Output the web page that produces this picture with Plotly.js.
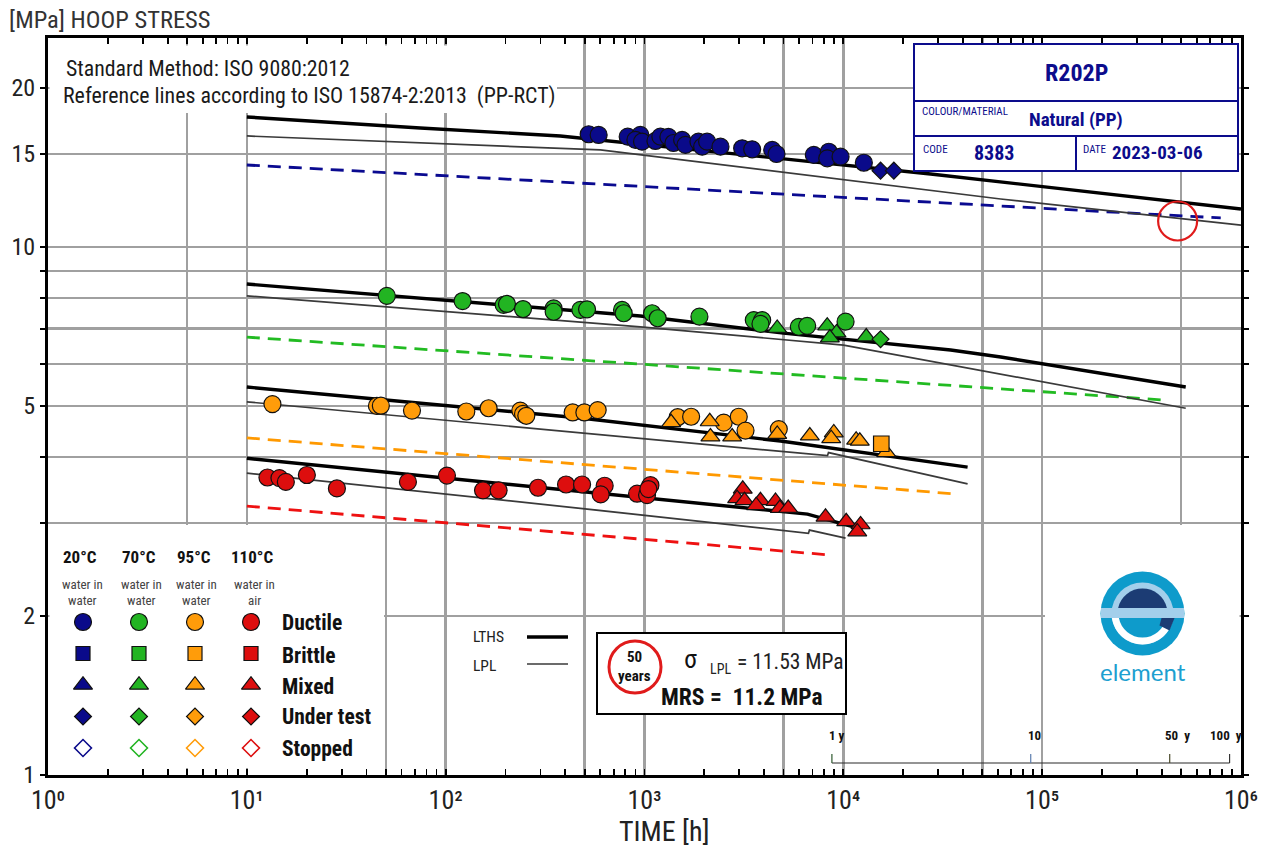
<!DOCTYPE html>
<html>
<head>
<meta charset="utf-8">
<script src="https://cdn.plot.ly/plotly-3.0.1.min.js"></script>
<style>
html,body{margin:0;padding:0;background:#ffffff;}
#chart{width:1266px;height:851px;}
</style>
</head>
<body>
<div id="chart"></div>
<script>
// ===================== DATA =====================
// 20 °C (water in water)
const t20Ductile = [524, 588, 823, 953, 900, 972, 1135, 1202, 1319, 1398, 1546, 1607, 1868, 1950, 2065, 2410, 3099, 3479, 4388, 4613, 7104, 8453, 8300, 9683, 12680];
const s20Ductile = [16.35, 16.30, 16.18, 16.30, 15.95, 15.83, 15.88, 16.18, 16.16, 15.74, 15.95, 15.61, 15.83, 15.49, 15.83, 15.49, 15.38, 15.31, 15.27, 15.00, 14.94, 15.15, 14.72, 14.83, 14.44];
const t20Test = [15390, 17950];
const s20Test = [13.95, 13.95];

// 70 °C (water in water)
const t70Ductile = [50.6, 121.6, 195.6, 203.4, 244.9, 349.2, 349.2, 475.8, 514, 771, 786, 1092, 1165, 1889, 3545, 3907, 3830, 5970, 6580, 10260];
const s70Ductile = [8.08, 7.90, 7.77, 7.80, 7.63, 7.65, 7.54, 7.60, 7.62, 7.60, 7.49, 7.49, 7.33, 7.38, 7.27, 7.27, 7.15, 7.06, 7.09, 7.22];
const t70Mixed = [4650, 8300, 9240, 8553, 13040];
const s70Mixed = [7.02, 7.09, 6.88, 6.73, 6.76];
const t70Test = [15390];
const s70Test = [6.69];

// 95 °C (water in water)
const t95Ductile = [13.45, 45.1, 47.2, 67.7, 127, 164.4, 237.4, 244.9, 254.4, 435.2, 498.4, 581.5, 1469, 1716, 2503, 2979, 3221, 4735];
const s95Ductile = [5.04, 5.00, 5.005, 4.90, 4.88, 4.95, 4.90, 4.83, 4.79, 4.86, 4.86, 4.91, 4.76, 4.77, 4.65, 4.77, 4.49, 4.52];
const t95Mixed = [1361, 2129, 2146, 2760, 4650, 6783, 8955, 8690, 11600, 12100, 16440];
const s95Mixed = [4.65, 4.67, 4.37, 4.37, 4.42, 4.39, 4.45, 4.34, 4.31, 4.29, 4.08];
const t95Brittle = [15520];
const s95Brittle = [4.24];

// 110 °C (water in air)
const t110Ductile = [12.70, 14.59, 15.71, 20.04, 28.38, 64.6, 101.5, 154.1, 184.6, 291.4, 403.2, 485.3, 630.5, 602, 917.8, 1071, 1030, 1046];
const s110Ductile = [3.66, 3.65, 3.59, 3.70, 3.49, 3.59, 3.69, 3.46, 3.46, 3.50, 3.55, 3.55, 3.53, 3.40, 3.41, 3.54, 3.39, 3.48];
const t110Mixed = [3120, 2924, 3184, 3830, 3644, 4558, 4791, 5282, 8136, 10340, 12210, 11750];
const s110Mixed = [3.48, 3.34, 3.31, 3.31, 3.24, 3.30, 3.20, 3.20, 3.08, 3.02, 2.98, 2.89];

// LTHS lines (thick black)
const lths20T = [10, 74.5, 377, 27480, 1000000];
const lths20S = [17.63, 16.8, 16.23, 13.75, 11.80];
const lths70T = [10, 953, 5001, 34640, 61850, 527300];
const lths70S = [8.51, 7.40, 6.87, 6.38, 6.19, 5.43];
const lths95T = [10, 475.6, 4830, 42170];
const lths95S = [5.43, 4.745, 4.29, 3.83];
const lths110T = [10, 953, 6603, 12490];
const lths110S = [3.98, 3.36, 3.12, 2.92];

// LPL lines (thin grey)
const lpl20T = [10, 600, 61850, 1000000];
const lpl20S = [16.23, 15.27, 12.33, 11.0];
const lpl70T = [10, 953, 10020, 527300];
const lpl70S = [8.08, 7.06, 6.52, 4.95];
const lpl95T = [10, 475.6, 8327, 8420, 42170];
const lpl95S = [5.09, 4.44, 4.025, 4.08, 3.56];
const lpl110T = [10, 475.6, 6679, 6756, 10260];
const lpl110S = [3.73, 3.20, 2.87, 2.91, 2.81];

// ISO 15874-2 reference lines (dashed)
const ref20T = [10, 791000];
const ref20S = [14.30, 11.35];
const ref70T = [10, 408800];
const ref70S = [6.75, 5.13];
const ref95T = [10, 35450];
const ref95S = [4.35, 3.41];
const ref110T = [10, 8620];
const ref110S = [3.23, 2.61];

// 50-year marker
const mrsT = [480000];
const mrsS = [11.2];

// Axis ticks / labels
const xLabelPowers = [0, 1, 2, 3, 4, 5, 6];
const superDigits = ['⁰', '¹', '²', '³', '⁴', '⁵', '⁶'];
const xGridVals = [5, 10, 50, 100, 500, 1000, 5000, 10000, 50000, 100000, 500000];
const yLabelVals = [1, 2, 5, 10, 15, 20];
const yLabelText = ['1', '2', '5', '10', '15', '20'];
const yMinorVals = [3, 4, 6, 7, 8, 9];

// Time scale (years)
const yearHours = [8760, 87600, 438000, 876000];
const yearLabels = ['1 y', '10', '50\u00a0\u00a0y', '100\u00a0\u00a0y'];

// Legend
const legendTemps = ['20°C', '70°C', '95°C', '110°C'];
const legendMedia = [['water in', 'water'], ['water in', 'water'], ['water in', 'water'], ['water in', 'air']];
const legendStatus = ['Ductile', 'Brittle', 'Mixed', 'Under test', 'Stopped'];

// Info box
const infoCode = 'R202P';
const infoMaterial = 'Natural (PP)';
const infoNumber = '8383';
const infoDate = '2023-03-06';
const sigmaLPL = '11.53';
const mrsValue = '11.2';

// ===================== STYLE =====================
const COND = "'Roboto Condensed','Liberation Sans Narrow','DejaVu Sans Condensed','Arial Narrow',sans-serif";
const NAVY = '#0c0c8c';
const C20 = '#0a0a8a', C70 = '#22b422', C95 = '#ff9c0a', C110 = '#dd0e0e';
const D20 = '#0a0a90', D70 = '#22bb22', D95 = '#ff9900', D110 = '#ee1111';
const GRID = '#a0a0a0';
const OUT = '#111111';

// plot area in pixels (for decorations)
const PL = 48, PR = 1241, PT = 38, PB = 775;
const dx = px => (px - PL) / (PR - PL);
const dy = py => (PB - py) / (PB - PT);

// ===================== TRACES =====================
const traces = [];
function addLine(t, s, color, width, dash) {
  traces.push({type: 'scatter', mode: 'lines', x: t, y: s, line: {color: color, width: width, dash: dash || 'solid'}, hoverinfo: 'skip', showlegend: false});
}
function addMarkers(t, s, color, symbol, size) {
  traces.push({type: 'scatter', mode: 'markers', x: t, y: s, hoverinfo: 'skip', showlegend: false,
    marker: {symbol: symbol, size: size, color: color, opacity: 1, line: {color: OUT, width: 1.2}}});
}

// trace for the grid-line axis (draws nothing)
traces.push({type: 'scatter', mode: 'none', x: t20Ductile, y: s20Ductile, xaxis: 'x2', yaxis: 'y', hoverinfo: 'skip', showlegend: false});

const DASH = '13px,8px';
addLine(ref20T, ref20S, D20, 2.8, DASH);
addLine(ref70T, ref70S, D70, 2.8, DASH);
addLine(ref95T, ref95S, D95, 2.8, DASH);
addLine(ref110T, ref110S, D110, 2.8, DASH);

addLine(lpl20T, lpl20S, '#3a3a3a', 1.7);
addLine(lpl70T, lpl70S, '#3a3a3a', 1.7);
addLine(lpl95T, lpl95S, '#3a3a3a', 1.7);
addLine(lpl110T, lpl110S, '#3a3a3a', 1.7);

addLine(lths20T, lths20S, '#000000', 3.4);
addLine(lths70T, lths70S, '#000000', 3.4);
addLine(lths95T, lths95S, '#000000', 3.4);
addLine(lths110T, lths110S, '#000000', 3.4);

addMarkers(t20Ductile, s20Ductile, C20, 'circle', 17);
addMarkers(t20Test, s20Test, C20, 'diamond', 13);
addMarkers(t70Ductile, s70Ductile, C70, 'circle', 17);
addMarkers(t70Mixed, s70Mixed, C70, 'triangle-up', 16.5);
addMarkers(t70Test, s70Test, C70, 'diamond', 13);
addMarkers(t95Ductile, s95Ductile, C95, 'circle', 17);
addMarkers(t95Mixed, s95Mixed, C95, 'triangle-up', 16.5);
addMarkers(t95Brittle, s95Brittle, C95, 'square', 15.5);
addMarkers(t110Ductile, s110Ductile, C110, 'circle', 17);
addMarkers(t110Mixed, s110Mixed, C110, 'triangle-up', 16.5);

traces.push({type: 'scatter', mode: 'markers', x: mrsT, y: mrsS, hoverinfo: 'skip', showlegend: false,
  marker: {symbol: 'circle-open', size: 39, color: '#e01b1b', opacity: 1, line: {width: 2.2}}});

// ===================== LAYOUT AXES =====================
const xTickVals = xLabelPowers.map(p => Math.pow(10, p));
const xTickText = xLabelPowers.map(p => '10' + superDigits[p]);
const xMinorVals = [];
for (let p = 0; p < 6; p++) {
  for (let k = 2; k <= 9; k++) xMinorVals.push(k * Math.pow(10, p));
}

const layout = {
  width: 1266, height: 851,
  margin: {l: PL, r: 1266 - PR, t: PT, b: 851 - PB, pad: 0},
  paper_bgcolor: '#ffffff', plot_bgcolor: '#ffffff',
  showlegend: false, hovermode: false,
  font: {family: COND, color: '#1a1a1a'},
  xaxis: {type: 'log', range: [0, 6], tickmode: 'array', tickvals: xTickVals, ticktext: xTickText,
    ticks: 'inside', ticklen: 6, tickwidth: 1.8, tickcolor: '#000',
    minor: {tickmode: 'array', tickvals: xMinorVals, ticks: 'inside', ticklen: 6, tickwidth: 1.8, tickcolor: '#000', showgrid: false},
    showline: true, linewidth: 3, linecolor: '#000', mirror: 'ticks',
    showgrid: false, zeroline: false, tickangle: 0,
    tickfont: {family: COND, size: 26, color: '#222'}},
  xaxis2: {type: 'log', range: [0, 6], overlaying: 'x', anchor: 'y', tickvals: xGridVals, tickmode: 'array',
    showticklabels: false, ticks: '', showgrid: true, gridcolor: GRID, gridwidth: 2.6,
    showline: false, zeroline: false},
  yaxis: {type: 'log', range: [0, (PB - PT) / 528], tickmode: 'array', tickvals: yLabelVals, ticktext: yLabelText,
    ticks: 'outside', ticklen: 5, tickwidth: 2, tickcolor: '#000',
    minor: {tickmode: 'array', tickvals: yMinorVals, ticks: 'outside', ticklen: 5, tickwidth: 2, tickcolor: '#000',
      showgrid: true, gridcolor: GRID, gridwidth: 2.6},
    showline: true, linewidth: 3, linecolor: '#000', mirror: 'ticks',
    showgrid: true, gridcolor: GRID, gridwidth: 2.6, zeroline: false,
    tickfont: {family: COND, size: 24, color: '#222'}},
  shapes: [], annotations: [], images: []
};

// ---- white panels (own subplots: their backgrounds hide the grid) ----
function panel(n, x0, y0, x1, y1, border, bw, xr, yr) {
  const ax = {domain: [dx(x0), dx(x1)], anchor: 'y' + n, range: xr || [0, 1], fixedrange: true,
    showgrid: false, zeroline: false, ticks: '', showticklabels: false};
  const ay = {domain: [dy(y1), dy(y0)], anchor: 'x' + n, range: yr || [0, 1], fixedrange: true,
    showgrid: false, zeroline: false, ticks: '', showticklabels: false};
  if (border) {
    Object.assign(ax, {visible: true, showline: true, mirror: true, linecolor: border, linewidth: bw});
    Object.assign(ay, {visible: true, showline: true, mirror: true, linecolor: border, linewidth: bw});
  } else {
    ax.showline = false; ay.showline = false;
  }
  layout['xaxis' + n] = ax;
  layout['yaxis' + n] = ay;
  traces.push({type: 'scatter', mode: 'none', x: mrsS, y: mrsS, xaxis: 'x' + n, yaxis: 'y' + n, hoverinfo: 'skip', showlegend: false});
}

// legend panel with a grid for the symbols
const colStep = 56, rowStep = 31.5, colFirst = 83, rowFirst = 622;
const lgX0 = 49.5, lgX1 = 384, lgY0 = 525, lgY1 = 768;
const xr3 = [-(colFirst - lgX0) / colStep, -(colFirst - lgX0) / colStep + (lgX1 - lgX0) / colStep];
const yTop = -(rowFirst - lgY0) / rowStep;
const yr3 = [yTop + (lgY1 - lgY0) / rowStep, yTop];
panel(3, lgX0, lgY0, lgX1, lgY1, null, 0, xr3, yr3);

panel(4, 49.5, 45.5, 557, 113);                 // method text
panel(5, 915, 45, 1237, 170, NAVY, 2);          // info box
panel(6, 598, 634, 845, 713, '#000', 1.6);      // MRS box
panel(7, 1045, 525, 1239.5, 768);               // logo area

// legend symbols
const legendColors = [C20, C70, C95, C110];
const filledSymbols = ['circle', 'square', 'triangle-up', 'diamond'];
const filledSizes = [17, 14, 16.5, 13];
legendTemps.forEach((temp, i) => {
  traces.push({type: 'scatter', mode: 'markers', xaxis: 'x3', yaxis: 'y3', hoverinfo: 'skip', showlegend: false,
    x: legendStatus.slice(0, 4).map(() => i), y: legendStatus.slice(0, 4).map((s, j) => j),
    marker: {symbol: filledSymbols, size: filledSizes, color: legendColors[i], opacity: 1, line: {color: OUT, width: 1.2}}});
  traces.push({type: 'scatter', mode: 'markers', xaxis: 'x3', yaxis: 'y3', hoverinfo: 'skip', showlegend: false,
    x: [i], y: [legendStatus.length - 1],
    marker: {symbol: 'diamond-open', size: 13, color: legendColors[i], opacity: 1, line: {width: 1.6}}});
});

// ===================== SHAPES =====================
const shapes = layout.shapes;
function pline(x0, y0, x1, y1, color, width) {
  shapes.push({type: 'line', xref: 'paper', yref: 'paper', layer: 'above',
    x0: dx(x0), x1: dx(x1), y0: dy(y0), y1: dy(y1), line: {color: color, width: width}});
}
// info box dividers
pline(915, 101, 1237, 101, NAVY, 2);
pline(915, 136, 1237, 136, NAVY, 2);
pline(1076, 136, 1076, 170, NAVY, 2);
// LTHS / LPL keys
pline(527, 637, 568, 637, '#000', 3.4);
pline(527, 664, 568, 664, '#3a3a3a', 1.7);
// 50-years red circle in MRS box
shapes.push({type: 'circle', xref: 'paper', yref: 'paper', layer: 'above',
  x0: dx(609), x1: dx(661), y0: dy(693), y1: dy(641), line: {color: '#e01b1b', width: 3}, fillcolor: 'rgba(0,0,0,0)'});
// time scale (shapes take raw hours on the log axis)
shapes.push({type: 'line', xref: 'x', yref: 'paper', layer: 'above', x0: yearHours[0], x1: yearHours[yearHours.length - 1], y0: dy(763), y1: dy(763), line: {color: '#2a2a2a', width: 1.2}});
const yearTickColors = ['#2f5a2f', '#5b7cae', '#4a4a2a', '#333333'];
yearHours.forEach((h, i) => {
  shapes.push({type: 'line', xref: 'x', yref: 'paper', layer: 'above', x0: h, x1: h, y0: dy(763), y1: dy(754), line: {color: yearTickColors[i], width: 1.2}});
});

// ===================== ANNOTATIONS =====================
const annotations = layout.annotations;
function txt(text, px, py, size, opts) {
  opts = opts || {};
  annotations.push({text: text, xref: 'paper', yref: 'paper', x: dx(px), y: dy(py),
    xanchor: opts.anchor || 'center', yanchor: 'middle', showarrow: false,
    font: {family: opts.family || COND, size: size, color: opts.color || '#1a1a1a'}});
}
txt('[MPa] HOOP STRESS', 7, 20, 24.5, {anchor: 'left', color: '#333'});
txt('Standard Method: ISO 9080:2012', 64, 68, 21.8, {anchor: 'left'});
txt('Reference lines according to ISO 15874-2:2013\u00a0\u00a0(PP-RCT)', 61, 96, 21.9, {anchor: 'left'});
txt('TIME [h]', 664, 831, 28, {color: '#222'});

// Info box
txt('<b>' + infoCode + '</b>', 1076, 73, 24, {color: NAVY});
txt('COLOUR/MATERIAL', 920, 111, 11, {anchor: 'left', color: NAVY});
txt('<b>' + infoMaterial + '</b>', 1076, 119, 19, {color: NAVY});
txt('CODE', 921, 149, 11, {anchor: 'left', color: NAVY});
txt('<b>' + infoNumber + '</b>', 994, 153, 20, {color: NAVY});
txt('DATE', 1081, 149, 11, {anchor: 'left', color: NAVY});
txt('<b>' + infoDate + '</b>', 1157, 153, 19, {color: NAVY});

// Legend
const legCols = [80, 139, 194, 252];
legendTemps.forEach((t, i) => {
  txt('<b>' + t + '</b>', legCols[i], 557, 17, {color: '#111'});
  txt(legendMedia[i][0], legCols[i] + 2, 584, 13, {color: '#444'});
  txt(legendMedia[i][1], legCols[i] + 2, 600, 13, {color: '#444'});
});
const legRows = [622, 655, 686, 716, 748];
legendStatus.forEach((s, i) => {
  txt('<b>' + s + '</b>', 280, legRows[i], 21.5, {anchor: 'left', color: '#111'});
});

// LTHS / LPL key labels
txt('LTHS', 471, 637, 15.5, {anchor: 'left', color: '#222'});
txt('LPL', 471, 666, 15.5, {anchor: 'left', color: '#222'});

// MRS box
txt('<b>50</b>', 634, 657, 15, {color: '#111'});
txt('<b>years</b>', 634, 676, 15, {color: '#111'});
txt('σ', 690, 659, 26, {color: '#111'});
txt('LPL', 720, 669, 14, {color: '#222'});
txt('= ' + sigmaLPL + ' MPa', 735, 661, 21.5, {anchor: 'left', color: '#222'});
txt('<b>MRS =\u00a0\u00a0' + mrsValue + ' MPa</b>', 742, 697, 23.5, {color: '#111'});

// Time scale labels
const yearShift = [5, 4, 8, -4];
yearHours.forEach((h, i) => {
  annotations.push({text: '<b>' + yearLabels[i] + '</b>', xref: 'x', yref: 'paper', x: Math.log10(h), y: dy(735),
    xshift: yearShift[i], xanchor: 'center', yanchor: 'middle', showarrow: false,
    font: {family: COND, size: 13, color: '#111'}});
});

// Logo text
txt('element', 1143, 671, 24, {family: "'Lato','Noto Sans',sans-serif", color: '#1d9fd0'});

// ===================== LOGO IMAGE =====================
const logoSvg =
  "<svg xmlns='http://www.w3.org/2000/svg' width='100' height='100' viewBox='-50 -50 100 100'>" +
  "<circle r='42' fill='#0e9bcb'/>" +
  "<circle r='31' fill='#a3cfeb'/>" +
  "<path d='M -30.67 4.5 A 31 31 0 0 0 30.67 4.5 Z' fill='#ffffff'/>" +
  "<path d='M -23.57 4.5 A 24 24 0 0 0 23.57 4.5 Z' fill='#0e9bcb'/>" +
  "<path d='M 19 4.5 L 32 4.5 L 27 17 L 17 12 Z' fill='#1c3c74'/>" +
  "<path d='M -24.39 -5.5 A 25 25 0 0 1 24.39 -5.5 Z' fill='#1c3c74'/>" +
  "<rect x='-41.5' y='-5.5' width='83' height='10' fill='#a3cfeb'/>" +
  "</svg>";
layout.images.push({
  source: 'data:image/svg+xml;charset=utf-8,' + encodeURIComponent(logoSvg),
  xref: 'paper', yref: 'paper', x: dx(1142.5 - 50), y: dy(613.5 - 50),
  sizex: 100 / (PR - PL), sizey: 100 / (PB - PT), xanchor: 'left', yanchor: 'top',
  sizing: 'stretch', layer: 'above'
});

Plotly.newPlot('chart', traces, layout, {staticPlot: true, displayModeBar: false});
</script>
</body>
</html>
